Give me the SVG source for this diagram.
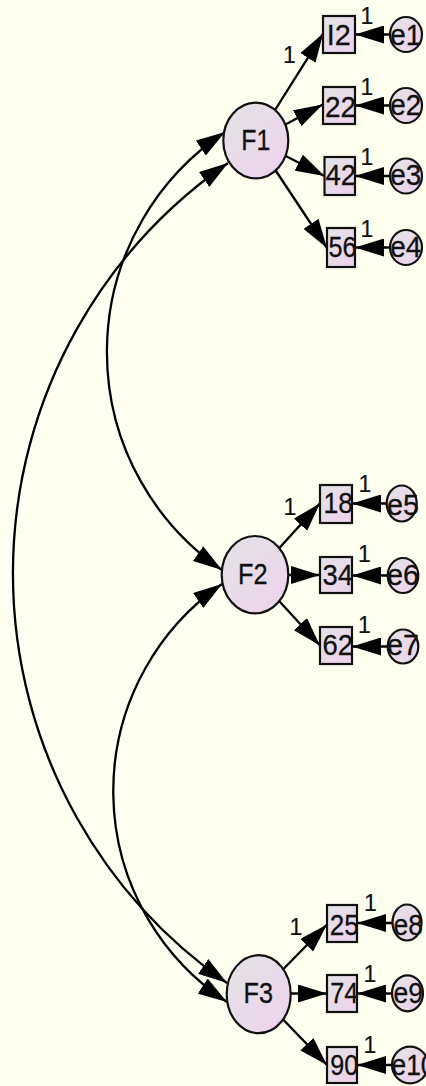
<svg xmlns="http://www.w3.org/2000/svg" width="426" height="1086" viewBox="0 0 426 1086">
<defs>
<linearGradient id="g" x1="0" y1="0" x2="1" y2="1">
<stop offset="0" stop-color="#E3E3E5"/>
<stop offset="1" stop-color="#EED2ED"/>
</linearGradient>
<marker id="ah" markerUnits="userSpaceOnUse" markerWidth="29" markerHeight="18" refX="29" refY="9" orient="auto-start-reverse" viewBox="0 0 29 18">
<path d="M0,0 L29,9 L0,18 Z" fill="#000"/>
</marker>
</defs>
<style>
.ln{fill:none;stroke:#000;stroke-width:2.3;marker-end:url(#ah)}
.cv{fill:none;stroke:#000;stroke-width:2.3;marker-start:url(#ah);marker-end:url(#ah)}
.nd{fill:url(#g);stroke:#111;stroke-width:2.2}
.t{font-family:"Liberation Sans",Arial,sans-serif;font-size:29px;fill:#111;stroke:#111;stroke-width:0.3;text-anchor:middle}
.w{font-family:"Liberation Sans",Arial,sans-serif;font-size:23px;fill:#111;stroke:#111;stroke-width:0.2;text-anchor:middle}
</style>
<rect width="426" height="1086" fill="#FFFFF0"/>
<g id="connectors">
<path class="cv" d="M225,132 A264,264 0 0 0 222,570"/>
<path class="cv" d="M228,163 A499,499 0 0 0 227,983"/>
<path class="cv" d="M222,584 A252,252 0 0 0 227,1002"/>
<path class="ln" d="M255.8,140.5 L323.3,33.3"/>
<path class="ln" d="M255.8,140.5 L322.7,104.5"/>
<path class="ln" d="M255.8,140.5 L324.5,176"/>
<path class="ln" d="M255.8,140.5 L327,248"/>
<path class="ln" d="M255,574.7 L320,503.3"/>
<path class="ln" d="M255,575 L320,575"/>
<path class="ln" d="M255,574.7 L320,645.5"/>
<path class="ln" d="M258.7,994.2 L327,924.5"/>
<path class="ln" d="M258.7,993.5 L327,993.5"/>
<path class="ln" d="M258.7,994.2 L327,1065"/>
<path class="ln" d="M406,34.5 L355,34.5"/>
<path class="ln" d="M406,105.5 L355,105.5"/>
<path class="ln" d="M406,176 L355,176"/>
<path class="ln" d="M406,247.5 L355,247.5"/>
<path class="ln" d="M401.7,503.5 L352,503.5"/>
<path class="ln" d="M403,575.5 L352,575.5"/>
<path class="ln" d="M403,646.5 L352,646.5"/>
<path class="ln" d="M407,923 L357,923"/>
<path class="ln" d="M407.5,993.5 L357,993.5"/>
<path class="ln" d="M410,1065 L357,1065"/>
<text class="w" x="289.5" y="62.7">1</text>
<text class="w" x="367" y="24">1</text>
<text class="w" x="367" y="95">1</text>
<text class="w" x="367" y="165">1</text>
<text class="w" x="367" y="236.7">1</text>
<text class="w" x="290" y="515">1</text>
<text class="w" x="365" y="491.7">1</text>
<text class="w" x="364.5" y="561.7">1</text>
<text class="w" x="364.5" y="633.3">1</text>
<text class="w" x="296" y="935">1</text>
<text class="w" x="370.5" y="910.7">1</text>
<text class="w" x="370" y="981.7">1</text>
<text class="w" x="370" y="1053.3">1</text>
</g>
<g id="F1"><ellipse class="nd" cx="255.8" cy="140.5" rx="32.5" ry="37.8"/><text class="t" x="255.8" y="150" textLength="29" lengthAdjust="spacingAndGlyphs">F1</text></g>
<g id="F2"><ellipse class="nd" cx="255" cy="574.7" rx="33.3" ry="38.7"/><text class="t" x="252.7" y="584" textLength="29.5" lengthAdjust="spacingAndGlyphs">F2</text></g>
<g id="F3"><ellipse class="nd" cx="258.7" cy="994.2" rx="32" ry="39"/><text class="t" x="258.3" y="1003" textLength="29.5" lengthAdjust="spacingAndGlyphs">F3</text></g>
<g id="vI2"><rect class="nd" x="323" y="16" width="32" height="37"/><text class="t" x="338.8" y="45" textLength="24" lengthAdjust="spacingAndGlyphs">I2</text></g>
<g id="v22"><rect class="nd" x="323" y="87" width="32" height="37"/><text class="t" x="340.5" y="116.7" textLength="31" lengthAdjust="spacingAndGlyphs">22</text></g>
<g id="v42"><rect class="nd" x="324.5" y="157" width="30.5" height="38"/><text class="t" x="340.8" y="185" textLength="30.5" lengthAdjust="spacingAndGlyphs">42</text></g>
<g id="v56"><rect class="nd" x="327" y="228" width="28" height="39"/><text class="t" x="342.5" y="256.7" textLength="28" lengthAdjust="spacingAndGlyphs">56</text></g>
<g id="v18"><rect class="nd" x="320" y="485" width="32" height="38"/><text class="t" x="338.3" y="513.3" textLength="29.5" lengthAdjust="spacingAndGlyphs">18</text></g>
<g id="v34"><rect class="nd" x="320" y="557" width="32" height="36"/><text class="t" x="337.8" y="585" textLength="30.5" lengthAdjust="spacingAndGlyphs">34</text></g>
<g id="v62"><rect class="nd" x="320" y="627" width="32" height="37"/><text class="t" x="337.8" y="655" textLength="30.5" lengthAdjust="spacingAndGlyphs">62</text></g>
<g id="v25"><rect class="nd" x="327" y="905" width="30" height="37"/><text class="t" x="344.2" y="935" textLength="29" lengthAdjust="spacingAndGlyphs">25</text></g>
<g id="v74"><rect class="nd" x="327" y="975" width="30" height="37"/><text class="t" x="344.2" y="1003" textLength="28" lengthAdjust="spacingAndGlyphs">74</text></g>
<g id="v90"><rect class="nd" x="327" y="1047" width="30" height="36"/><text class="t" x="344.2" y="1075" textLength="28" lengthAdjust="spacingAndGlyphs">90</text></g>
<g id="e1"><ellipse class="nd" cx="406" cy="34.5" rx="16" ry="17.5"/><text class="t" x="405.8" y="45" textLength="31" lengthAdjust="spacingAndGlyphs">e1</text></g>
<g id="e2"><ellipse class="nd" cx="406" cy="105.5" rx="16" ry="17.5"/><text class="t" x="405.8" y="115" textLength="31" lengthAdjust="spacingAndGlyphs">e2</text></g>
<g id="e3"><ellipse class="nd" cx="406" cy="176" rx="16" ry="17.5"/><text class="t" x="405.8" y="185" textLength="31" lengthAdjust="spacingAndGlyphs">e3</text></g>
<g id="e4"><ellipse class="nd" cx="406" cy="247.5" rx="16" ry="17.5"/><text class="t" x="405.8" y="256.7" textLength="31" lengthAdjust="spacingAndGlyphs">e4</text></g>
<g id="e5"><ellipse class="nd" cx="401.7" cy="503.5" rx="15" ry="18"/><text class="t" x="403" y="515" textLength="32" lengthAdjust="spacingAndGlyphs">e5</text></g>
<g id="e6"><ellipse class="nd" cx="403" cy="575.5" rx="15.3" ry="17.5"/><text class="t" x="403" y="585" textLength="32" lengthAdjust="spacingAndGlyphs">e6</text></g>
<g id="e7"><ellipse class="nd" cx="403" cy="646.5" rx="15.3" ry="17"/><text class="t" x="403" y="655" textLength="32" lengthAdjust="spacingAndGlyphs">e7</text></g>
<g id="e8"><ellipse class="nd" cx="407" cy="922.5" rx="14.5" ry="18"/><text class="t" x="408.3" y="935" textLength="29.5" lengthAdjust="spacingAndGlyphs">e8</text></g>
<g id="e9"><ellipse class="nd" cx="407.5" cy="993.3" rx="15.5" ry="18"/><text class="t" x="408.3" y="1003" textLength="29.5" lengthAdjust="spacingAndGlyphs">e9</text></g>
<g id="e10"><ellipse class="nd" cx="410" cy="1065" rx="18" ry="18.3"/><text class="t" x="391.5" y="1075" style="text-anchor:start" textLength="44" lengthAdjust="spacingAndGlyphs">e10</text></g>
</svg>
